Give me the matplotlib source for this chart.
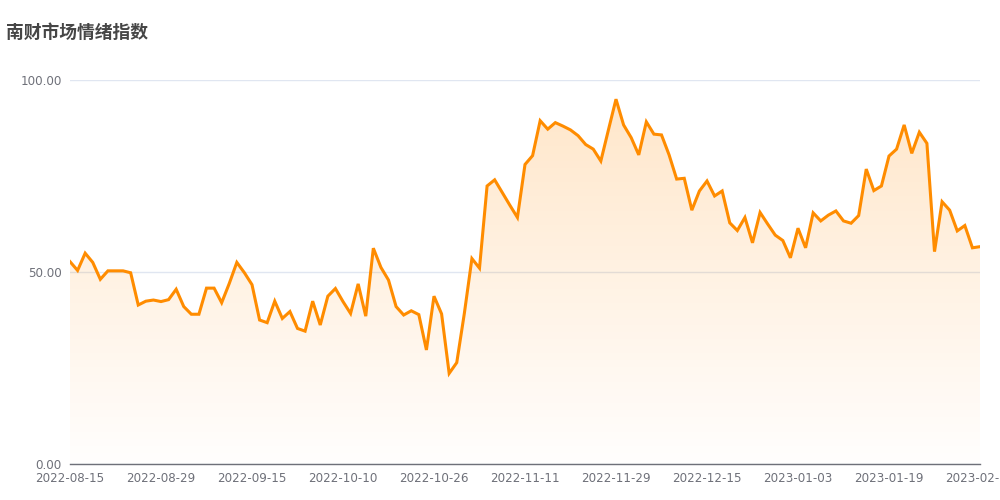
import numpy as np
import matplotlib
matplotlib.use("Agg")
import matplotlib.pyplot as plt
from matplotlib.colors import LinearSegmentedColormap

# DATA #################################################################################################################
tick_labels = ["2022-08-15", "2022-08-29", "2022-09-15", "2022-10-10", "2022-10-26", "2022-11-11",
               "2022-11-29", "2022-12-15", "2023-01-03", "2023-01-19", "2023-02-13"]
values = [52.7, 50.4, 54.9, 52.5, 48.1, 50.3, 50.3, 50.3, 49.8, 41.4,
          42.4, 42.7, 42.3, 42.8, 45.5, 41.0, 39.0, 39.0, 45.8, 45.8,
          42.0, 47.0, 52.5, 49.8, 46.7, 37.5, 36.8, 42.4, 37.9, 39.7,
          35.3, 34.6, 42.4, 36.2, 43.7, 45.7, 42.3, 39.2, 46.9, 38.5,
          56.2, 51.2, 47.9, 41.0, 38.8, 39.9, 38.9, 29.7, 43.7, 39.1,
          23.6, 26.4, 39.2, 53.5, 51.0, 72.4, 74.0, 70.7, 67.4, 64.2,
          78.0, 80.3, 89.4, 87.2, 88.9, 88.0, 87.0, 85.5, 83.2, 82.0,
          78.9, 87.0, 95.0, 88.3, 85.0, 80.5, 89.1, 85.9, 85.7, 80.5,
          74.2, 74.4, 66.1, 71.1, 73.7, 69.8, 71.1, 62.8, 60.8, 64.2,
          57.6, 65.5, 62.5, 59.6, 58.2, 53.7, 61.4, 56.3, 65.4, 63.3,
          64.8, 65.9, 63.3, 62.7, 64.7, 76.8, 71.2, 72.4, 80.2, 82.0,
          88.3, 80.9, 86.4, 83.5, 55.3, 68.3, 66.1, 60.7, 62.1, 56.3,
          56.6]
label_step = 12

# FIGURE ###############################################################################################################
plt.rcParams['font.family'] = ['DejaVu Sans']
LINE = '#ff8c00'
AXIS = '#6e7079'
GRID = '#e0e6f1'

x = np.arange(len(values))
y = np.array(values)

fig = plt.figure(figsize=(10, 5), dpi=100)
ax = fig.add_axes([0.07, 0.072, 0.91, 0.768])

# gradient area under the line
cmap = LinearSegmentedColormap.from_list('area', [(1, 0.549, 0, 0.01), (1, 0.549, 0, 0.21)])
grad = np.linspace(0, 1, 256).reshape(-1, 1)
img = ax.imshow(grad, cmap=cmap, aspect='auto', origin='lower',
                extent=[0, len(values) - 1, 0, y.max()], zorder=1, interpolation='bilinear')
poly = ax.fill_between(x, 0, y, facecolor='none', edgecolor='none')
img.set_clip_path(poly.get_paths()[0], transform=ax.transData)
ax.set_xlim(0, len(values) - 1)
ax.set_ylim(0, 100)

ax.plot(x, y, color=LINE, linewidth=2.2, solid_joinstyle='miter', zorder=3)

# axes styling
ax.set_yticks([0, 50, 100])
ax.set_yticklabels(['%.2f' % v for v in [0, 50, 100]])
ax.set_xticks(x[::label_step])
ax.set_xticklabels(tick_labels)
ax.grid(axis='y', color=GRID, linewidth=1)
ax.set_axisbelow(True)
for side in ['top', 'right', 'left']:
    ax.spines[side].set_visible(False)
ax.spines['bottom'].set_color(AXIS)
ax.spines['bottom'].set_linewidth(1)
ax.tick_params(axis='y', length=0, pad=6, labelsize=8.6, labelcolor=AXIS)
ax.tick_params(axis='x', length=0, pad=6, labelsize=8.6, labelcolor=AXIS)

fig.text(0.006, 0.934, '南财市场情绪指数', fontsize=12.8, fontweight='bold', color='#464646',
         family=['Noto Sans CJK SC', 'DejaVu Sans'], va='center', ha='left')

fig.savefig('out.png', dpi=100)
